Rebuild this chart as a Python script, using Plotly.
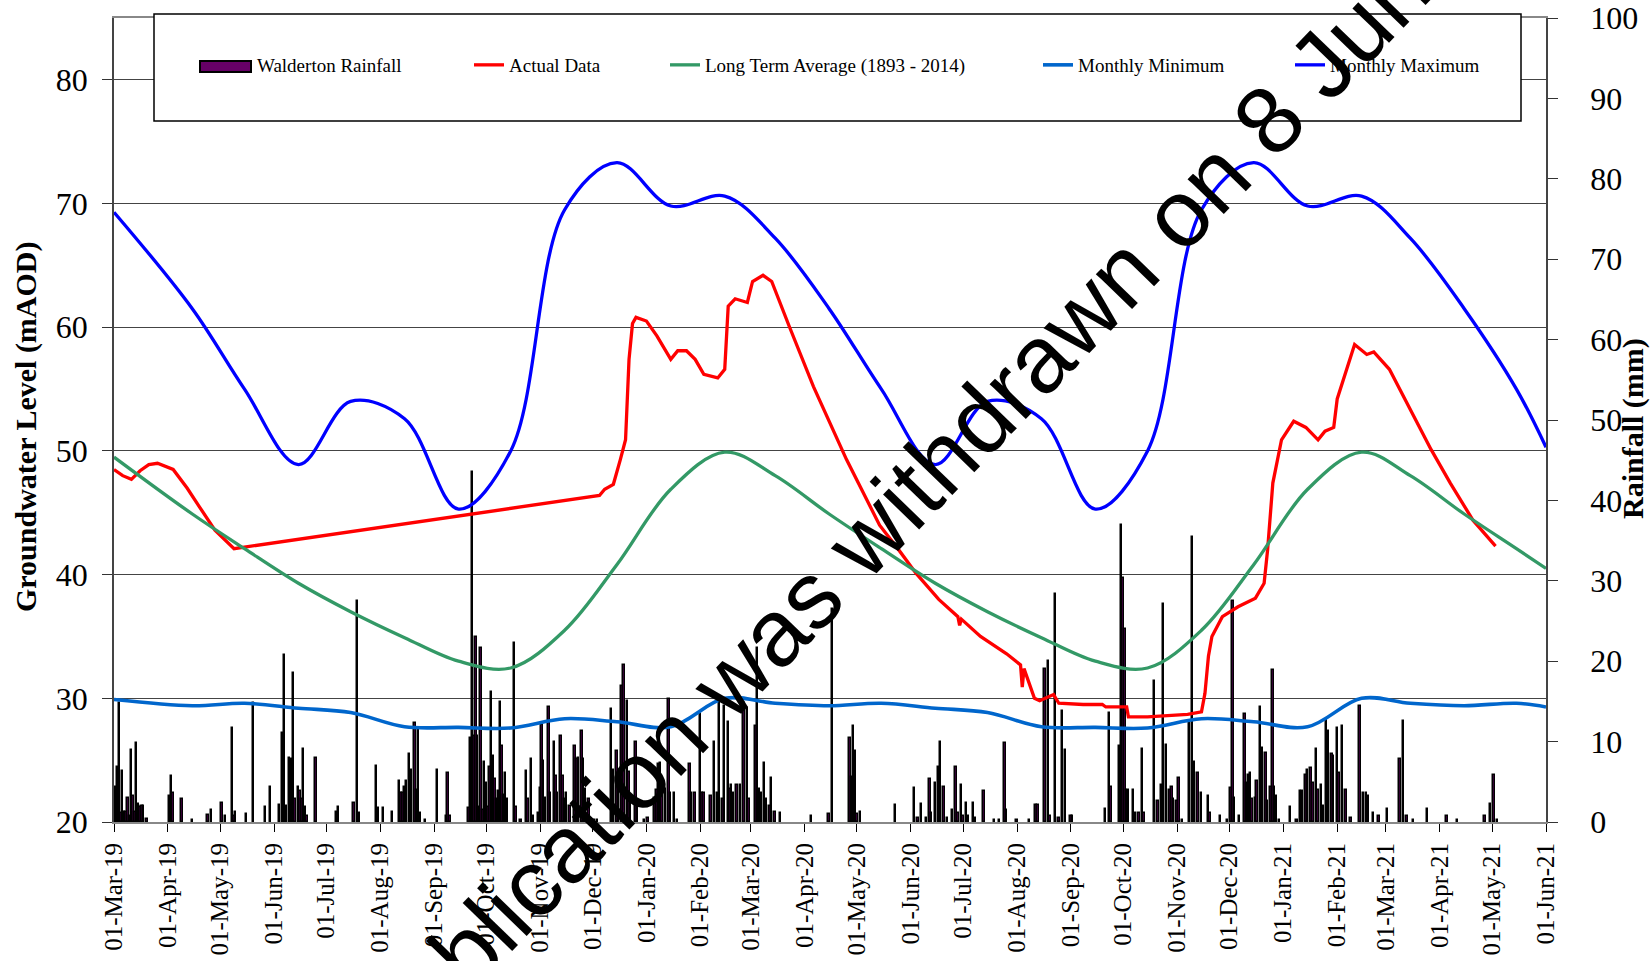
import plotly.graph_objects as go
import pandas as pd

# ---------------- data ----------------
START = pd.Timestamp("2019-03-01")
END = pd.Timestamp("2021-06-01")

# Walderton daily rainfall (day number counted from 01-Mar-19, mm)
rain_day = [1, 2, 3, 4, 5, 6, 7, 8, 9, 10, 11, 12, 13, 14, 15, 16, 17, 19,
            32, 33, 34, 39, 45, 54, 56, 62, 64, 68, 69, 70, 76, 80, 87, 90, 95, 97, 98, 99,
            101, 102, 103, 104, 106, 107, 108, 109, 110, 111, 116, 128, 129, 138, 140, 141,
            151, 152, 155, 160, 164, 165, 166, 167, 168, 170, 171, 173, 174, 175, 176, 179,
            186, 191, 192, 193, 204, 205, 206, 207, 208, 209, 210, 211, 212, 213, 214, 215,
            216, 217, 218, 219, 220, 221, 222, 223, 224, 225, 226, 230, 231, 234, 237, 238,
            240, 241, 244, 245, 246, 247, 248, 250, 251, 253, 254, 255, 257, 258, 259, 260,
            262, 265, 266, 267, 269, 270, 271, 273, 276, 278, 286, 287, 289, 290, 292, 293,
            295, 296, 297, 300, 301, 305, 307, 311, 312, 313, 314, 315, 317, 319, 320, 322,
            324, 331, 332, 334, 337, 338, 339, 343, 345, 347, 348, 350, 351, 353, 354, 355,
            356, 358, 360, 362, 364, 365, 369, 370, 371, 372, 374, 375, 377, 378, 380, 383,
            401, 411, 413, 423, 424, 425, 426, 427, 429, 449, 460, 462, 464, 467, 469, 470,
            472, 474, 475, 477, 479, 482, 484, 485, 487, 488, 490, 491, 494, 495, 500, 506,
            509, 512, 513, 519, 526, 530, 531, 535, 537, 538, 541, 543, 545, 547, 550, 551,
            570, 572, 573, 578, 579, 580, 581, 582, 583, 586, 587, 589, 591, 592, 598, 600,
            602, 603, 605, 607, 608, 609, 611, 612, 614, 618, 620, 621, 623, 625, 629, 630,
            636, 640, 642, 643, 644, 647, 650, 651, 652, 653, 654, 656, 657, 659, 660, 662,
            663, 665, 666, 667, 668, 670, 676, 680, 682, 683, 685, 686, 688, 689, 691, 692,
            694, 695, 697, 698, 700, 701, 703, 704, 706, 708, 711, 716, 718, 720, 721, 724,
            727, 732, 739, 741, 743, 747, 755, 766, 772, 788, 791, 793, 795]
rain_mm = [4.4, 6.9, 14.8, 1.1, 6.3, 1.3, 1.3, 3.0, 0.8, 8.9, 3.2, 1.3, 9.8, 2.2, 1.9, 2.0, 2.0, 0.4,
           3.2, 5.7, 3.6, 2.9, 0.3, 0.9, 1.5, 2.4, 0.7, 11.7, 0.7, 1.2, 1.0, 14.8, 1.9, 4.4, 2.1, 11.1, 20.8, 2.0,
           7.9, 7.8, 18.5, 2.8, 4.4, 3.8, 2.8, 9.1, 1.9, 0.7, 7.9, 1.3, 1.9, 2.4, 27.5, 1.1,
           7.0, 1.7, 1.7, 1.3, 5.1, 3.6, 3.6, 4.4, 5.1, 8.5, 6.5, 12.3, 4.0, 11.5, 1.1, 0.3,
           6.5, 0.7, 6.1, 0.7, 1.7, 10.4, 43.5, 10.7, 23.0, 10.7, 1.9, 21.6, 1.5, 7.5, 4.9, 1.9,
           6.9, 16.2, 8.2, 5.3, 2.8, 3.8, 14.9, 9.4, 3.4, 6.1, 2.8, 22.3, 1.9, 0.3, 6.3, 2.8,
           7.8, 0.7, 1.1, 4.2, 12.1, 7.6, 3.0, 14.3, 3.6, 10.0, 5.7, 3.6, 10.7, 5.7, 2.8, 3.6,
           2.0, 9.5, 7.8, 8.0, 11.3, 7.8, 4.1, 2.8, 0.3, 0.3, 14.0, 6.5, 8.8, 4.4, 16.9, 19.5,
           15.0, 6.2, 2.8, 9.9, 2.0, 0.3, 0.5, 3.0, 4.0, 7.2, 7.3, 3.9, 4.1, 15.3, 3.6, 3.6,
           0.3, 7.2, 3.6, 3.6, 13.4, 3.6, 3.6, 3.2, 9.9, 3.6, 14.8, 2.8, 14.4, 12.4, 4.1, 4.6,
           3.6, 4.6, 4.6, 14.8, 14.2, 2.8, 11.9, 21.7, 4.1, 3.6, 7.3, 2.8, 2.0, 5.5, 1.2, 1.1,
           0.7, 1.0, 26.5, 10.5, 5.6, 12.0, 8.8, 1.0, 1.2, 2.1, 4.2, 0.5, 2.3, 0.5, 5.3, 1.1,
           4.8, 6.8, 10.0, 4.4, 0.5, 1.5, 6.8, 1.1, 4.6, 0.7, 2.4, 0.7, 2.4, 0.5, 3.8, 0.3,
           0.3, 9.8, 1.5, 0.3, 0.2, 2.1, 2.1, 19.0, 20.0, 0.7, 28.4, 0.5, 13.8, 9.0, 0.8, 0.7,
           1.6, 13.6, 4.4, 9.4, 36.9, 30.3, 24.0, 4.0, 4.0, 4.0, 1.1, 1.1, 9.1, 1.1, 17.5, 2.6,
           4.6, 27.1, 9.6, 4.0, 4.4, 2.8, 2.6, 5.5, 0.3, 12.3, 35.4, 7.5, 6.1, 3.6, 3.2, 1.1,
           0.8, 0.3, 4.2, 27.5, 3.0, 0.7, 13.4, 4.8, 5.9, 6.1, 2.9, 3.0, 5.1, 14.3, 9.2, 8.6,
           2.6, 4.4, 18.9, 4.4, 3.2, 0.3, 1.9, 0.3, 3.8, 3.8, 5.9, 6.5, 6.7, 4.8, 9.1, 4.0,
           4.6, 2.0, 12.7, 11.3, 8.4, 8.2, 11.7, 6.1, 11.9, 4.0, 0.5, 14.4, 3.6, 3.6, 3.2, 1.1,
           0.8, 1.6, 7.8, 12.6, 0.7, 0.3, 1.6, 0.8, 0.2, 0.7, 2.3, 5.9, 0.3]

# Actual groundwater level (mAOD)
actual_dates = ["2019-03-01", "2019-03-06", "2019-03-11", "2019-03-16", "2019-03-21", "2019-03-26",
                "2019-04-04", "2019-04-12", "2019-04-19", "2019-04-28", "2019-05-09",
                "2019-12-05", "2019-12-08", "2019-12-13", "2019-12-17", "2019-12-20", "2019-12-22",
                "2019-12-24", "2019-12-26", "2020-01-01", "2020-01-07", "2020-01-15", "2020-01-19",
                "2020-01-24", "2020-01-29", "2020-02-03", "2020-02-11", "2020-02-15", "2020-02-17",
                "2020-02-21", "2020-02-28", "2020-03-02", "2020-03-08", "2020-03-13", "2020-03-23",
                "2020-04-06", "2020-04-25", "2020-05-14", "2020-05-25", "2020-06-04", "2020-06-17",
                "2020-06-28", "2020-06-29", "2020-06-30", "2020-07-11", "2020-07-26", "2020-08-03",
                "2020-08-04", "2020-08-05", "2020-08-11", "2020-08-14", "2020-08-19", "2020-08-22",
                "2020-08-25", "2020-09-08", "2020-09-19", "2020-09-21", "2020-10-03", "2020-10-04",
                "2020-10-15", "2020-11-07", "2020-11-15", "2020-11-17", "2020-11-19", "2020-11-21",
                "2020-11-27", "2020-12-06", "2020-12-16", "2020-12-21", "2020-12-23", "2020-12-26",
                "2020-12-31", "2021-01-07", "2021-01-14", "2021-01-21", "2021-01-25", "2021-01-30",
                "2021-02-01", "2021-02-05", "2021-02-11", "2021-02-18", "2021-02-22", "2021-03-03",
                "2021-03-16", "2021-03-27", "2021-04-07", "2021-04-20", "2021-05-03"]
actual_level = [48.5, 48.0, 47.7, 48.4, 48.9, 49.0,
                48.5, 47.0, 45.5, 43.6, 42.1,
                46.4, 46.9, 47.3, 49.3, 50.9, 57.4,
                60.3, 60.8, 60.5, 59.3, 57.4, 58.1,
                58.1, 57.4, 56.2, 55.9, 56.6, 61.7,
                62.3, 62.0, 63.7, 64.2, 63.7, 60.1,
                55.2, 49.3, 44.0, 42.0, 40.1, 38.0,
                36.6, 35.9, 36.4, 35.0, 33.6, 32.7,
                30.9, 32.4, 30.0, 29.8, 30.1, 30.3,
                29.6, 29.5, 29.5, 29.3, 29.3, 28.5,
                28.5, 28.7, 28.9, 30.4, 33.4, 35.0,
                36.6, 37.4, 38.1, 39.3, 42.0, 47.4,
                50.9, 52.4, 51.9, 50.9, 51.6, 51.9,
                54.2, 56.0, 58.6, 57.8, 58.0, 56.6,
                53.1, 50.1, 47.4, 44.4, 42.3]

# Monthly statistics (mid-month values, Jan..Dec) and values at the first / last day
lta_month = [46.9, 49.9, 48.0, 44.9, 42.1, 39.3, 37.0, 34.9, 33.0, 32.45, 35.5, 40.8]
min_month = [27.7, 30.0, 29.6, 29.4, 29.6, 29.2, 28.85, 27.7, 27.65, 27.6, 28.35, 28.1]
max_month = [69.8, 70.6, 67.2, 61.5, 55.0, 48.9, 54.0, 52.6, 45.3, 50.0, 69.5, 73.3]
lta_ends = [49.5, 40.5]
min_ends = [29.9, 29.3]
max_ends = [69.3, 50.3]

# ---------------- build series ----------------
rain_dates = [START + pd.Timedelta(days=d) for d in rain_day]
mid = pd.date_range("2019-03-15", "2021-05-15", freq="MS") + pd.Timedelta(days=14)
stat_dates = [START] + list(mid) + [END]


def stat_series(month_vals, ends):
    return [ends[0]] + [month_vals[d.month - 1] for d in mid] + [ends[1]]


lta_vals = stat_series(lta_month, lta_ends)
min_vals = stat_series(min_month, min_ends)
max_vals = stat_series(max_month, max_ends)

# ---------------- figure ----------------
SERIF = "Liberation Serif"
fig = go.Figure()

fig.add_trace(go.Bar(
    x=rain_dates, y=rain_mm, yaxis="y", name="Walderton Rainfall",
    marker=dict(color="#660066", line=dict(color="black", width=1.5)),
    width=0.8 * 86400000, showlegend=False))

fig.add_trace(go.Scatter(
    x=pd.to_datetime(actual_dates), y=actual_level, yaxis="y2", mode="lines",
    name="Actual Data", line=dict(color="#FF0000", width=3.3), legend="legend"))
fig.add_trace(go.Scatter(
    x=stat_dates, y=lta_vals, yaxis="y2", mode="lines",
    name="Long Term Average (1893 - 2014)",
    line=dict(color="#339966", width=3.3, shape="spline", smoothing=1.0), legend="legend2"))
fig.add_trace(go.Scatter(
    x=stat_dates, y=min_vals, yaxis="y2", mode="lines", name="Monthly Minimum",
    line=dict(color="#0066CC", width=3.6, shape="spline", smoothing=1.0), legend="legend3"))
fig.add_trace(go.Scatter(
    x=stat_dates, y=max_vals, yaxis="y2", mode="lines", name="Monthly Maximum",
    line=dict(color="#0000FF", width=3.3, shape="spline", smoothing=1.0), legend="legend4"))

# page geometry
PAGE_W, PAGE_H = 1652, 961
PL, PR, PT, PB = 114, 1546, 18, 822          # plot area in page pixels
PW, PH = PR - PL, PB - PT


def px(xp):
    return (xp - PL) / PW


def py(yp):
    return (PB - yp) / PH


leg_common = dict(orientation="h", yanchor="middle", xanchor="left", y=py(65),
                  bgcolor="rgba(0,0,0,0)", borderwidth=0,
                  font=dict(family=SERIF, size=19, color="black"))

tickfont = dict(family=SERIF, size=32, color="black")

fig.update_layout(
    autosize=False,
    width=PAGE_W, height=PAGE_H,
    margin=dict(l=PL, r=PAGE_W - PR, t=PT, b=PAGE_H - PB, pad=0),
    paper_bgcolor="white", plot_bgcolor="white",
    bargap=0,
    xaxis=dict(type="date", range=[START, END], tick0="2019-03-01", dtick="M1",
               tickformat="%d-%b-%y", tickangle=-90, ticks="outside", ticklen=8,
               tickcolor="black", showline=True, linecolor="#888888", linewidth=2,
               mirror=True, showgrid=False, ticklabelstandoff=1, automargin=False,
               ticklabeloverflow="allow",
               tickfont=dict(family=SERIF, size=25, color="black")),
    yaxis=dict(range=[0, 100], side="right", tick0=0, dtick=10, ticks="outside",
               ticklen=10, tickcolor="#333333", showgrid=False, zeroline=False,
               showline=True, linecolor="#444444", linewidth=1.5, automargin=False,
               ticklabeloverflow="allow", ticklabelstandoff=26, tickfont=tickfont),
    yaxis2=dict(range=[20, 85], overlaying="y", side="left", tick0=20, dtick=10,
                ticks="outside", ticklen=10, tickcolor="#333333", showgrid=True,
                gridcolor="#444444", gridwidth=1.2, zeroline=False, showline=True,
                linecolor="#444444", linewidth=1.5, ticklabelstandoff=8, automargin=False,
                ticklabeloverflow="allow", tickfont=tickfont),
    legend=dict(x=px(469), **leg_common),
    legend2=dict(x=px(665), **leg_common),
    legend3=dict(x=px(1038), **leg_common),
    legend4=dict(x=px(1290), **leg_common),
    showlegend=True,
)

# legend frame and rainfall swatch
fig.add_shape(type="rect", xref="paper", yref="paper", x0=px(154), x1=px(1521),
              y0=py(121), y1=py(14), fillcolor="white", line=dict(color="black", width=1.5),
              layer="above")
fig.add_shape(type="rect", xref="paper", yref="paper", x0=px(200), x1=px(251),
              y0=py(72), y1=py(61), fillcolor="#660066", line=dict(color="black", width=2),
              layer="above")
fig.add_annotation(text="Walderton Rainfall", xref="paper", yref="paper", x=px(255), y=py(66),
                   xanchor="left", yanchor="middle", showarrow=False,
                   font=dict(family=SERIF, size=19, color="black"))

# axis titles
fig.add_annotation(text="<b>Groundwater Level (mAOD)</b>", xref="paper", yref="paper",
                   x=px(26), y=py(427), textangle=-90, showarrow=False,
                   xanchor="center", yanchor="middle",
                   font=dict(family=SERIF, size=30, color="black"))
fig.add_annotation(text="<b>Rainfall (mm)</b>", xref="paper", yref="paper",
                   x=px(1633), y=py(429), textangle=-90, showarrow=False,
                   xanchor="center", yanchor="middle",
                   font=dict(family=SERIF, size=30, color="black"))

# withdrawn watermark
fig.add_annotation(text="This publication was withdrawn on 8 June 2021", xref="paper", yref="paper",
                   x=px(922), y=py(479), textangle=-46, showarrow=False,
                   xanchor="center", yanchor="middle",
                   font=dict(family="Liberation Sans", size=95, color="black"))

fig.write_html("out.html",
               config={"displayModeBar": False},
               post_script="document.body.style.margin='0px';"
                           "document.body.style.overflow='hidden';")
